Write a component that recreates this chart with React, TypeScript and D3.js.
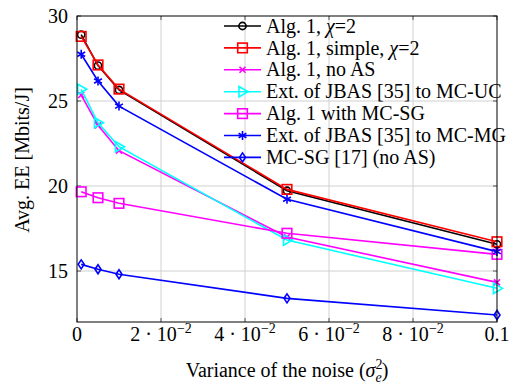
import React from "react";
import * as d3 from "d3";

const noiseVar = [0.001, 0.005, 0.01, 0.05, 0.1];
const alg1Chi2 = [28.9, 27.08, 25.65, 19.72, 16.57];
const alg1Simple = [28.8, 27.12, 25.7, 19.8, 16.72];
const alg1NoAS = [25.35, 23.57, 22.08, 17.0, 14.33];
const jbasMCUC = [25.69, 23.72, 22.31, 16.82, 13.98];
const alg1MCSG = [19.66, 19.31, 18.98, 17.22, 15.98];
const jbasMCMG = [27.75, 26.18, 24.7, 19.22, 16.14];
const mcsgNoAS = [15.39, 15.1, 14.81, 13.39, 12.41];

const xTicks = [0, 0.02, 0.04, 0.06, 0.08, 0.1];
const xTickMant = ["0", "2", "4", "6", "8", "0.1"];
const yTicks = [15, 20, 25, 30];

type Marker = "circle" | "square" | "x" | "triR" | "star" | "diamond";
const series: { name: string; chi?: boolean; values: number[]; color: string; marker: Marker }[] = [
  { name: "Alg. 1, ", chi: true, values: alg1Chi2, color: "#000000", marker: "circle" },
  { name: "Alg. 1, simple, ", chi: true, values: alg1Simple, color: "#ff0000", marker: "square" },
  { name: "Alg. 1, no AS", values: alg1NoAS, color: "#ff00ff", marker: "x" },
  { name: "Ext. of JBAS [35] to MC-UC", values: jbasMCUC, color: "#00ffff", marker: "triR" },
  { name: "Alg. 1 with MC-SG", values: alg1MCSG, color: "#ff00ff", marker: "square" },
  { name: "Ext. of JBAS [35] to MC-MG", values: jbasMCMG, color: "#0000ff", marker: "star" },
  { name: "MC-SG [17] (no AS)", values: mcsgNoAS, color: "#0000ff", marker: "diamond" },
];

const L = 77, R = 497, T = 16, B = 322;
const FONT = "'Liberation Serif', 'Times New Roman', serif";

function MarkerShape({ type, x, y, color }: { type: Marker; x: number; y: number; color: string }) {
  const sw = 1.6;
  switch (type) {
    case "circle":
      return <circle cx={x} cy={y} r={3.6} fill="none" stroke={color} strokeWidth={sw} />;
    case "square":
      return <rect x={x - 4.8} y={y - 4.8} width={9.6} height={9.6} fill="none" stroke={color} strokeWidth={sw} />;
    case "x":
      return (
        <g stroke={color} strokeWidth={sw}>
          <line x1={x - 3} y1={y - 3} x2={x + 3} y2={y + 3} />
          <line x1={x - 3} y1={y + 3} x2={x + 3} y2={y - 3} />
        </g>
      );
    case "triR":
      return <path d={`M${x + 5.5},${y} L${x - 3.5},${y - 5.2} L${x - 3.5},${y + 5.2} Z`} fill="none" stroke={color} strokeWidth={sw} />;
    case "star":
      return (
        <g stroke={color} strokeWidth={sw}>
          <line x1={x} y1={y - 4.5} x2={x} y2={y + 4.5} />
          <line x1={x - 3.9} y1={y - 2.25} x2={x + 3.9} y2={y + 2.25} />
          <line x1={x - 3.9} y1={y + 2.25} x2={x + 3.9} y2={y - 2.25} />
        </g>
      );
    case "diamond":
      return <path d={`M${x},${y - 4.5} L${x + 3},${y} L${x},${y + 4.5} L${x - 3},${y} Z`} fill="none" stroke={color} strokeWidth={sw} />;
  }
}

export default function App() {
  const x = d3.scaleLinear().domain([0, 0.1]).range([L, R]);
  const y = d3.scaleLinear().domain([12, 30]).range([B, T]);
  const line = d3
    .line<[number, number]>()
    .x((d) => x(d[0]))
    .y((d) => y(d[1]));

  const legX0 = 224, legX1 = 261, legTextX = 266, legY0 = 26, legDy = 21.9;

  return (
    <svg width={513} height={386} style={{ position: "absolute", left: 0, top: 0, background: "#fff" }} fontFamily={FONT}>
      {/* grid */}
      {xTicks.slice(1, -1).map((t) => (
        <line key={"gx" + t} x1={x(t)} x2={x(t)} y1={T} y2={B} stroke="#d0d0d0" strokeWidth={1} />
      ))}
      {yTicks.slice(0, -1).map((t) => (
        <line key={"gy" + t} x1={L} x2={R} y1={y(t)} y2={y(t)} stroke="#d0d0d0" strokeWidth={1} />
      ))}
      {/* ticks */}
      {xTicks.map((t) => (
        <g key={"tx" + t} stroke="#555" strokeWidth={1}>
          <line x1={x(t)} x2={x(t)} y1={B} y2={B - 4} />
          <line x1={x(t)} x2={x(t)} y1={T} y2={T + 4} />
        </g>
      ))}
      {yTicks.map((t) => (
        <g key={"ty" + t} stroke="#555" strokeWidth={1}>
          <line x1={L} x2={L + 4} y1={y(t)} y2={y(t)} />
          <line x1={R} x2={R - 4} y1={y(t)} y2={y(t)} />
        </g>
      ))}
      {/* series */}
      {series.map((s, i) => {
        const pts = noiseVar.map((v, j) => [v, s.values[j]] as [number, number]);
        return (
          <g key={"s" + i}>
            <path d={line(pts) || ""} fill="none" stroke={s.color} strokeWidth={1.6} />
            {pts.map((p, j) => (
              <MarkerShape key={j} type={s.marker} x={x(p[0])} y={y(p[1])} color={s.color} />
            ))}
          </g>
        );
      })}
      {/* frame */}
      <rect x={L} y={T} width={R - L} height={B - T} fill="none" stroke="#000" strokeWidth={1} />
      {/* y tick labels */}
      {yTicks.map((t) => (
        <text key={"yl" + t} x={L - 9} y={y(t)} dy="0.35em" textAnchor="end" fontSize={20}>
          {t}
        </text>
      ))}
      {/* x tick labels */}
      {xTicks.map((t, i) => {
        const m = xTickMant[i];
        if (i === 0 || i === xTicks.length - 1) {
          return (
            <text key={"xl" + t} x={x(t)} y={341} textAnchor="middle" fontSize={20}>
              {m}
            </text>
          );
        }
        return (
          <text key={"xl" + t} x={x(t)} y={341} textAnchor="middle" fontSize={20}>
            {m + " \u00b7 10"}
            <tspan fontSize={14} dy={-8}>{"\u22122"}</tspan>
          </text>
        );
      })}
      {/* axis labels */}
      <text x={(L + R) / 2} y={377} textAnchor="middle" fontSize={20}>
        {"Variance of the noise ("}
        <tspan fontStyle="italic">{"\u03c3"}</tspan>
        <tspan fontSize={14} dy={-8}>2</tspan>
        <tspan fontSize={14} fontStyle="italic" dx={-7} dy={13}>e</tspan>
        <tspan dy={-5}>)</tspan>
      </text>
      <text transform="translate(29,160) rotate(-90)" textAnchor="middle" fontSize={20}>
        Avg. EE [Mbits/J]
      </text>
      {/* legend */}
      {series.map((s, i) => {
        const cy = legY0 + i * legDy;
        return (
          <g key={"lg" + i}>
            <line x1={legX0} x2={legX1} y1={cy} y2={cy} stroke={s.color} strokeWidth={1.6} />
            <MarkerShape type={s.marker} x={(legX0 + legX1) / 2} y={cy} color={s.color} />
            <text x={legTextX} y={cy} dy="0.33em" fontSize={20}>
              {s.name}
              {s.chi ? (
                <>
                  <tspan fontStyle="italic">{"\u03c7"}</tspan>
                  {"=2"}
                </>
              ) : null}
            </text>
          </g>
        );
      })}
    </svg>
  );
}
